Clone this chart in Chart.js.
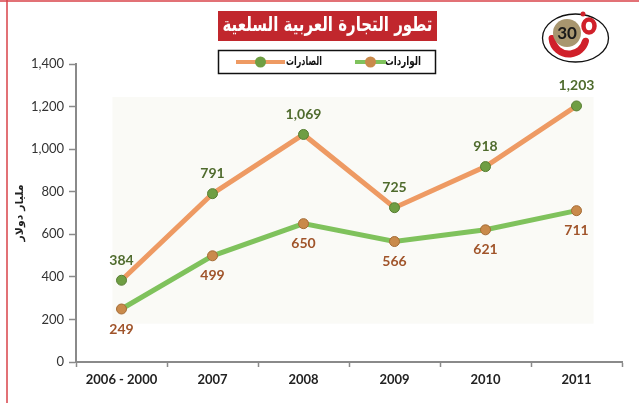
<!doctype html>
<html lang="ar">
<head>
<meta charset="utf-8">
<title>تطور التجارة العربية السلعية</title>
<script src="https://cdn.jsdelivr.net/npm/chart.js"></script>
<style>
  html, body { margin: 0; padding: 0; background: #fff; }
  #wrap { width: 639px; height: 403px; }
</style>
</head>
<body>
<div id="wrap"><canvas id="chart" width="639" height="403"></canvas></div>
<script>
// data
const years = ['2006 - 2000', '2007', '2008', '2009', '2010', '2011'];
const exportsData = [384, 791, 1069, 725, 918, 1203];
const importsData = [249, 499, 650, 566, 621, 711];
const exportsName = 'الصادرات';
const importsName = 'الواردات';
const chartTitle = 'تطور التجارة العربية السلعية';
const yTitle = 'مليار دولار';
const yTicks = [0, 200, 400, 600, 800, 1000, 1200, 1400];
const badge = '30';

const fmt = v => Number(v).toLocaleString('en-US');

// value labels, above for exports, below for imports
const valueLabels = {
  id: 'valueLabels',
  afterDatasetsDraw(chart) {
    const ctx = chart.ctx;
    ctx.save();
    ctx.font = 'bold 14px Lato, "Liberation Sans", sans-serif';
    ctx.textAlign = 'center';
    ctx.textBaseline = 'middle';
    chart.data.datasets.forEach((ds, i) => {
      const meta = chart.getDatasetMeta(i);
      ctx.fillStyle = ds.labelColor;
      meta.data.forEach((pt, j) => {
        ctx.fillText(fmt(ds.data[j]), pt.x, pt.y + ds.labelOffset);
      });
    });
    ctx.restore();
  }
};

// frame, title box, legend box, badge
const decor = {
  id: 'decor',
  beforeDraw(chart) {
    const ctx = chart.ctx;
    const x = chart.scales.x, y = chart.scales.y;
    ctx.save();
    ctx.fillStyle = '#fff';
    ctx.fillRect(0, 0, chart.width, chart.height);
    // faint plot panel
    const l = x.getPixelForValue(0) - 9, r = x.getPixelForValue(5) + 17;
    const t = y.getPixelForValue(1245), b = y.getPixelForValue(180);
    ctx.fillStyle = '#fafaf6';
    ctx.fillRect(l, t, r - l, b - t);
    ctx.restore();
  },
  afterDraw(chart) {
    const ctx = chart.ctx;
    ctx.save();
    // red page edges
    ctx.strokeStyle = '#d9434a';
    ctx.lineWidth = 1.5;
    ctx.beginPath();
    ctx.moveTo(0, 1); ctx.lineTo(chart.width, 1);
    ctx.moveTo(7, 0); ctx.lineTo(7, chart.height);
    ctx.stroke();

    // title box
    ctx.fillStyle = '#c1272d';
    ctx.fillRect(218, 11, 219, 30);
    ctx.fillStyle = '#fff';
    ctx.font = 'bold 20px "DejaVu Sans", sans-serif';
    ctx.textAlign = 'center';
    ctx.textBaseline = 'middle';
    ctx.direction = 'rtl';
    ctx.fillText(chartTitle, 327.5, 26, 210);

    // legend box
    ctx.strokeStyle = '#111';
    ctx.lineWidth = 1.5;
    ctx.strokeRect(218.5, 50.5, 217, 23);
    const items = chart.data.datasets;
    const spots = [
      { ds: items[1], textRight: 421, sym: [355, 386] },
      { ds: items[0], textRight: 322, sym: [236, 285] }
    ];
    ctx.font = 'bold 12px "DejaVu Sans", sans-serif';
    ctx.textAlign = 'right';
    spots.forEach(s => {
      ctx.fillStyle = '#111';
      ctx.fillText(s.ds.label, s.textRight, 62, 36);
      ctx.strokeStyle = s.ds.borderColor;
      ctx.lineWidth = 4;
      ctx.beginPath();
      ctx.moveTo(s.sym[0], 62); ctx.lineTo(s.sym[1], 62);
      ctx.stroke();
      ctx.fillStyle = s.ds.pointBackgroundColor;
      ctx.beginPath();
      ctx.arc((s.sym[0] + s.sym[1]) / 2, 62, 5.5, 0, Math.PI * 2);
      ctx.fill();
    });

    // badge
    ctx.strokeStyle = '#111';
    ctx.lineWidth = 1.3;
    ctx.beginPath();
    ctx.ellipse(575.5, 38, 33, 24, 0, 0, Math.PI * 2);
    ctx.stroke();
    ctx.strokeStyle = '#d0202a';
    ctx.lineWidth = 7;
    ctx.lineCap = 'round';
    ctx.beginPath();
    ctx.arc(569, 37, 17, Math.PI * 0.97, Math.PI * 0.08, true);
    ctx.stroke();
    ctx.lineWidth = 4.5;
    ctx.beginPath();
    ctx.ellipse(589, 26, 5.5, 6.5, 0, 0, Math.PI * 2);
    ctx.stroke();
    ctx.fillStyle = '#d0202a';
    ctx.beginPath();
    ctx.arc(583, 14, 2.5, 0, Math.PI * 2);
    ctx.fill();
    ctx.fillStyle = '#a8966f';
    ctx.beginPath();
    ctx.arc(567, 33, 14, 0, Math.PI * 2);
    ctx.fill();
    ctx.fillStyle = '#1a1a1a';
    ctx.font = 'bold 17px Lato, "Liberation Sans", sans-serif';
    ctx.textAlign = 'center';
    ctx.direction = 'ltr';
    ctx.fillText(badge, 567, 34);
    ctx.restore();
  }
};

new Chart(document.getElementById('chart'), {
  type: 'line',
  data: {
    labels: years,
    datasets: [
      {
        label: exportsName,
        data: exportsData,
        borderColor: '#ee9a63',
        borderWidth: 5,
        pointRadius: 5,
        pointBackgroundColor: '#6f9e43',
        pointBorderColor: '#587f34',
        pointBorderWidth: 1,
        tension: 0,
        labelColor: '#4f6b2d',
        labelOffset: -20
      },
      {
        label: importsName,
        data: importsData,
        borderColor: '#7fc25c',
        borderWidth: 5,
        pointRadius: 5,
        pointBackgroundColor: '#c98a4b',
        pointBorderColor: '#a56c36',
        pointBorderWidth: 1,
        tension: 0,
        labelColor: '#a0542a',
        labelOffset: 20
      }
    ]
  },
  options: {
    responsive: false,
    animation: false,
    layout: { padding: { top: 64, right: 17, left: 0, bottom: 0 } },
    plugins: {
      legend: { display: false },
      title: { display: false },
      tooltip: { enabled: false }
    },
    scales: {
      x: {
        offset: true,
        grid: { offset: true, drawOnChartArea: false, tickLength: 5, color: '#8a8a8a', tickWidth: 1.5 },
        border: { color: '#8a8a8a', width: 2 },
        ticks: {
          color: '#222',
          padding: 5,
          font: { family: 'Lato, "Liberation Sans", sans-serif', size: 13, weight: 'bold' }
        },
        afterFit(s) { s.height = 41; }
      },
      y: {
        min: 0,
        max: 1400,
        afterBuildTicks(s) { s.ticks = yTicks.map(v => ({ value: v })); },
        grid: { drawOnChartArea: false, tickLength: 7, color: '#8a8a8a', tickWidth: 1.5 },
        border: { color: '#8a8a8a', width: 2 },
        ticks: {
          color: '#333',
          padding: 5,
          font: { family: 'Lato, "Liberation Sans", sans-serif', size: 13 },
          callback: v => fmt(v)
        },
        title: {
          display: true,
          text: yTitle,
          color: '#222',
          padding: { top: 14, bottom: 0 },
          font: { family: '"DejaVu Sans", sans-serif', size: 11, weight: 'bold' }
        },
        afterFit(s) { s.width = 76; }
      }
    }
  },
  plugins: [decor, valueLabels]
});
</script>
</body>
</html>
